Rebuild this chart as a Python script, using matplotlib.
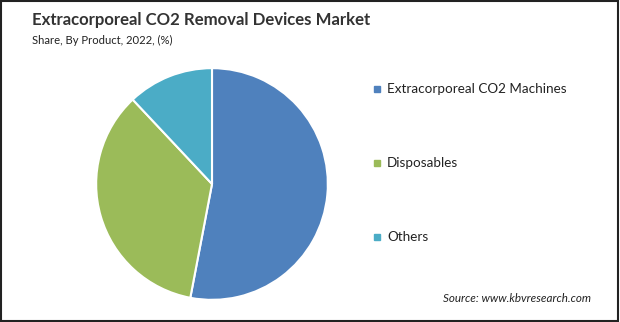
import matplotlib.pyplot as plt
from matplotlib.patches import Rectangle

# share by product, 2022 (%)
PRODUCTS = ['Extracorporeal CO2 Machines', 'Disposables', 'Others']
SHARES = [53, 35, 12]
COLORS = ['#4f81bd', '#9bbb59', '#4bacc6']

W, H = 620, 322
FIG = plt.figure(figsize=(W / 100, H / 100), dpi=100)
plt.rcParams['font.family'] = ['Lato', 'DejaVu Sans']

# border round the whole picture
FIG.patches.append(Rectangle((0.002, 0.003), 0.994, 0.993, transform=FIG.transFigure,
                             fill=False, edgecolor='#222222', linewidth=1.5))

# pie: centre (212, 184) px, radius 117 px
CX, CY, R = 212, 184, 117
AX = FIG.add_axes([(CX - R) / W, (H - CY - R) / H, 2 * R / W, 2 * R / H])
AX.pie(SHARES, colors=COLORS, startangle=90, counterclock=False,
       wedgeprops=dict(edgecolor='white', linewidth=1.5))
AX.set_xlim(-1.01, 1.01)
AX.set_ylim(-1.01, 1.01)
AX.set_aspect('equal')
AX.axis('off')

FIG.text(32 / W, 1 - 20 / H, 'Extracorporeal CO2 Removal Devices Market',
         fontsize=12.1, fontweight='bold', color='#333333', va='center')
FIG.text(32 / W, 1 - 40 / H, 'Share, By Product, 2022, (%)',
         fontsize=8.1, color='#222222', va='center')

# legend, one row per product
for idx, (label, color) in enumerate(zip(PRODUCTS, COLORS)):
    ypix = 89 + idx * 74
    FIG.patches.append(Rectangle((374 / W, 1 - (ypix + 3) / H), 6 / W, 6 / H,
                                 transform=FIG.transFigure, color=color))
    FIG.text(387 / W, 1 - ypix / H, label, fontsize=9.75, color='#222222',
             va='center')

FIG.text(591 / W, 1 - 299 / H, 'Source: www.kbvresearch.com', fontsize=8.4,
         style='italic', color='#222222', ha='right', va='center')

FIG.savefig('out.png', dpi=100)
